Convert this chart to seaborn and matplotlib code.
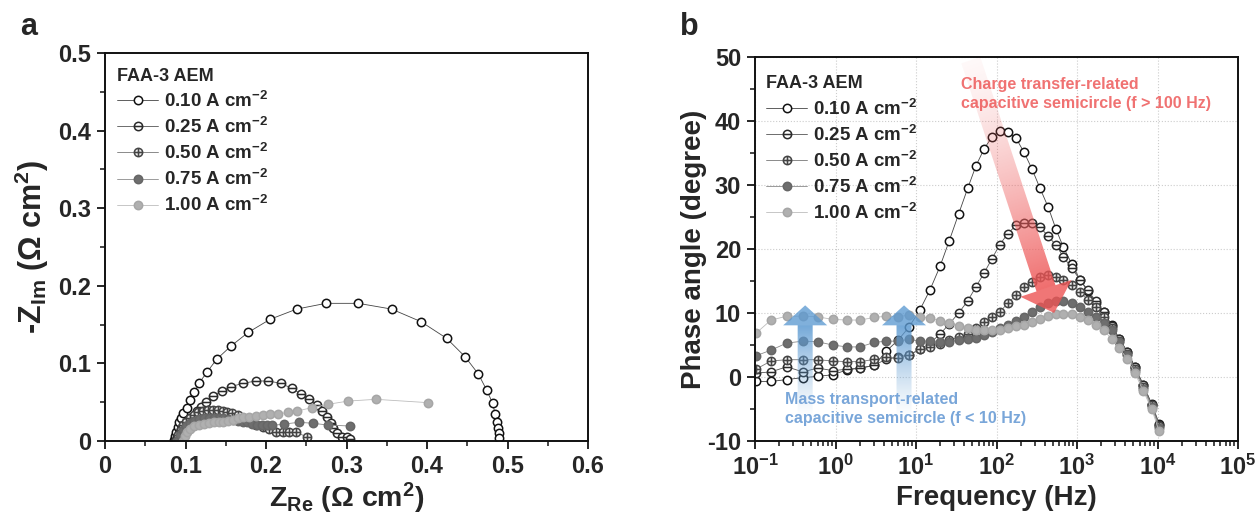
import numpy as np
import matplotlib
matplotlib.use("Agg")
import matplotlib.pyplot as plt
import seaborn as sns
from matplotlib.path import Path
from matplotlib.patches import Polygon
from matplotlib.ticker import MultipleLocator, LogLocator, FuncFormatter, NullFormatter, LogFormatterSciNotation

# ---------------- data ----------------
labels = ["0.10 A cm$^{-2}$", "0.25 A cm$^{-2}$", "0.50 A cm$^{-2}$", "0.75 A cm$^{-2}$", "1.00 A cm$^{-2}$"]
legend_title = "FAA-3 AEM"

# Nyquist (panel a)
zre_010 = [0.0857, 0.0870, 0.0885, 0.0905, 0.0925, 0.0945, 0.0973, 0.1015, 0.1056, 0.1110, 0.1172, 0.1271, 0.1387,
           0.1565, 0.1780, 0.2050, 0.2381, 0.2745, 0.3147, 0.3560, 0.3925, 0.4244, 0.4472, 0.4638, 0.4741, 0.4816,
           0.4845, 0.4865, 0.4886, 0.4894, 0.4900]
zim_010 = [0.001, 0.006, 0.012, 0.018, 0.024, 0.030, 0.0357, 0.0429, 0.0528, 0.0627, 0.0751, 0.0893, 0.1053,
           0.1224, 0.140, 0.1568, 0.170, 0.1774, 0.1774, 0.170, 0.1538, 0.1323, 0.1087, 0.0863, 0.0657, 0.0485,
           0.0348, 0.0249, 0.0163, 0.0099, 0.0035]
zre_025 = [0.0870, 0.0890, 0.0915, 0.0945, 0.0975, 0.1010, 0.1045, 0.1077, 0.1139, 0.1189, 0.1255, 0.1346, 0.1450,
           0.1565, 0.1710, 0.1872, 0.2029, 0.2186, 0.2319, 0.2435, 0.2538, 0.2630, 0.2692, 0.2754, 0.2803, 0.2836,
           0.2886, 0.2940, 0.3002, 0.3043]
zim_025 = [0.000, 0.005, 0.010, 0.015, 0.020, 0.024, 0.028, 0.0313, 0.0387, 0.0442, 0.0507, 0.058, 0.0644,
           0.070, 0.0743, 0.0773, 0.0773, 0.0743, 0.0679, 0.0606, 0.0537, 0.0464, 0.039, 0.0313, 0.0236, 0.0163,
           0.0099, 0.0055, 0.0047, 0.003]
zre_050 = [0.0880, 0.0910, 0.0940, 0.0975, 0.1010, 0.1050, 0.1100, 0.1160, 0.1220, 0.1280, 0.1340, 0.1400, 0.1460,
           0.1520, 0.1580, 0.1650, 0.1720, 0.1800, 0.1880, 0.1960, 0.2040, 0.2130, 0.2210, 0.2290, 0.2370, 0.2505]
zim_050 = [0.000, 0.008, 0.014, 0.020, 0.025, 0.030, 0.034, 0.037, 0.039, 0.040, 0.040, 0.040, 0.039,
           0.038, 0.036, 0.033, 0.029, 0.025, 0.021, 0.018, 0.015, 0.012, 0.012, 0.012, 0.012, 0.005]
zre_075 = [0.0900, 0.0930, 0.0970, 0.1010, 0.1060, 0.1110, 0.1170, 0.1230, 0.1290, 0.1350, 0.1410, 0.1470, 0.1530,
           0.1590, 0.1650, 0.1710, 0.1770, 0.1830, 0.1890, 0.1950, 0.2010, 0.2080, 0.2227, 0.2410, 0.2588, 0.2766,
           0.3043]
zim_075 = [0.000, 0.008, 0.014, 0.019, 0.023, 0.026, 0.028, 0.029, 0.030, 0.030, 0.030, 0.029, 0.028,
           0.027, 0.026, 0.025, 0.024, 0.022, 0.021, 0.020, 0.020, 0.020, 0.0219, 0.0241, 0.0228, 0.0206,
           0.0193]
zre_100 = [0.0970, 0.0990, 0.1020, 0.1060, 0.1110, 0.1170, 0.1230, 0.1290, 0.1350, 0.1410, 0.1470, 0.1530, 0.1590,
           0.1650, 0.1710, 0.1789, 0.1872, 0.1959, 0.2050, 0.2153, 0.2270, 0.2389, 0.2567, 0.2766, 0.3023, 0.3366,
           0.4016]
zim_100 = [0.000, 0.006, 0.011, 0.015, 0.019, 0.021, 0.022, 0.023, 0.024, 0.024, 0.025, 0.026, 0.027,
           0.029, 0.0305, 0.0313, 0.0326, 0.0335, 0.0348, 0.0348, 0.037, 0.0387, 0.0429, 0.0472, 0.0515, 0.0537,
           0.0494]

# Bode phase (panel b)
freq_hz = [0.102, 0.158, 0.248, 0.392, 0.601, 0.923, 1.38, 2.01, 3.03, 4.24, 6.03, 8.18, 11.2, 14.9, 19.9, 25.9,
           33.9, 43.9, 55.6, 70.5, 87.9, 110, 138, 175, 220, 276, 347, 440, 548, 676, 859, 1090, 1360, 1720,
           2160, 2700, 3350, 4220, 5250, 6670, 8470, 10500]
phase_010 = [-0.7, -0.7, -0.4, -0.1, 0.1, 0.35, 1.1, 1.4, 1.8, 4.0, 5.8, 7.8, 10.5, 13.6, 17.3, 21.3, 25.5, 29.5,
             33.0, 35.7, 37.5, 38.5, 38.3, 37.3, 35.1, 32.5, 29.5, 26.5, 23.1, 20.3, 17.7, 15.2, 13.4, 11.6, 10.1,
             8.1, 6.0, 3.95, 1.6, -1.25, -4.2, -7.3]
phase_025 = [0.6, 0.8, 1.6, 0.8, 1.4, 1.0, 1.2, 1.4, 1.8, 2.8, 3.1, 3.5, 4.3, 5.3, 6.7, 8.3, 10.0, 11.9, 14.1,
             16.3, 18.5, 20.7, 22.4, 23.7, 24.1, 24.0, 23.4, 22.0, 20.6, 18.8, 17.0, 15.2, 13.6, 11.8, 10.2, 8.0,
             6.0, 3.9, 1.5, -1.3, -4.3, -7.5]
phase_050 = [1.2, 2.5, 2.7, 2.7, 2.7, 2.5, 2.4, 2.4, 2.75, 3.1, 2.9, 3.4, 4.3, 4.7, 5.2, 5.8, 6.2, 6.7, 7.6, 8.6,
             9.4, 10.2, 11.5, 12.8, 14.0, 14.8, 15.6, 15.9, 15.7, 15.2, 14.4, 13.3, 12.1, 11.0, 9.3, 7.6, 5.6, 3.6,
             1.3, -1.5, -4.4, -7.6]
phase_075 = [3.3, 4.2, 5.3, 5.6, 5.5, 5.0, 4.7, 4.7, 5.4, 5.6, 5.6, 5.9, 5.6, 5.6, 5.4, 5.5, 5.8, 5.9, 6.1, 6.6,
             7.1, 7.6, 8.1, 8.8, 9.4, 10.2, 11.0, 11.5, 11.9, 11.8, 11.6, 11.0, 10.2, 9.3, 8.4, 7.3, 5.5, 3.4, 1.0,
             -1.8, -4.7, -8.0]
phase_100 = [6.8, 8.9, 9.5, 9.5, 9.4, 9.0, 8.9, 8.9, 9.3, 9.5, 9.4, 9.7, 9.4, 9.2, 8.8, 8.4, 7.9, 7.6, 7.3, 7.3,
             7.3, 7.3, 7.6, 7.9, 8.1, 8.6, 9.1, 9.5, 9.8, 9.8, 9.8, 9.4, 8.9, 8.1, 7.3, 5.9, 4.5, 2.8, 0.6, -2.2,
             -5.0, -8.5]

nyq_x = [zre_010, zre_025, zre_050, zre_075, zre_100]
nyq_y = [zim_010, zim_025, zim_050, zim_075, zim_100]
phases = [phase_010, phase_025, phase_050, phase_075, phase_100]

# annotations (data coordinates of panel b)
charge_text = "Charge transfer-related\ncapacitive semicircle (f > 100 Hz)"
mass_text = "Mass transport-related\ncapacitive semicircle (f < 10 Hz)"
blue_arrow_freqs = [0.42, 7.1]
blue_arrow_deg = (-6.5, 11.2)
red_arrow_tail = (48.0, 49.5)
red_arrow_tip = (520.0, 10.0)

# ---------------- style ----------------
sns.set_style("ticks")
plt.rcParams.update({
    "font.family": ["Liberation Sans", "DejaVu Sans"],
    "font.weight": "bold",
    "axes.labelweight": "bold",
    "mathtext.fontset": "custom",
    "mathtext.rm": "Liberation Sans:bold",
    "mathtext.it": "Liberation Sans:bold",
    "mathtext.bf": "Liberation Sans:bold",
    "mathtext.sf": "Liberation Sans:bold",
    "mathtext.default": "rm",
    "axes.unicode_minus": False,
    "axes.linewidth": 1.4,
    "axes.edgecolor": "#111111",
})

circ = Path.unit_circle()
minus_marker = Path.make_compound_path(circ, Path([[-1, 0], [1, 0]], [Path.MOVETO, Path.LINETO]))
plus_marker = Path.make_compound_path(circ, Path([[-1, 0], [1, 0]], [Path.MOVETO, Path.LINETO]),
                                      Path([[0, -1], [0, 1]], [Path.MOVETO, Path.LINETO]))
styles = [
    dict(marker="o", markerfacecolor="white", markeredgecolor="#111111", color="#444444"),
    dict(marker=minus_marker, markerfacecolor="white", markeredgecolor="#2a2a2a", color="#555555"),
    dict(marker=plus_marker, markerfacecolor="#eeeeee", markeredgecolor="#444444", color="#777777"),
    dict(marker="o", markerfacecolor="#6e6e6e", markeredgecolor="#666666", color="#8a8a8a"),
    dict(marker="o", markerfacecolor="#b0b0b0", markeredgecolor="#a6a6a6", color="#bdbdbd"),
]

W, H = 1260, 519
fig = plt.figure(figsize=(W / 100, H / 100), dpi=100)
ax1 = fig.add_axes([105 / W, 1 - 441 / H, 483 / W, 388 / H])
ax2 = fig.add_axes([755 / W, 1 - 441 / H, 483 / W, 384 / H])

# ---------------- panel a ----------------
for xs, ys, lab, st in zip(nyq_x, nyq_y, labels, styles):
    sns.lineplot(x=xs, y=ys, ax=ax1, sort=False, estimator=None, label=lab, linewidth=0.6,
                 markersize=6, markeredgewidth=1.1, **st)
ax1.set_xlim(0, 0.6)
ax1.set_ylim(0, 0.5)
ax1.xaxis.set_major_locator(MultipleLocator(0.1))
ax1.xaxis.set_minor_locator(MultipleLocator(0.05))
ax1.yaxis.set_major_locator(MultipleLocator(0.1))
ax1.yaxis.set_minor_locator(MultipleLocator(0.05))
fmt = FuncFormatter(lambda v, p: "0" if abs(v) < 1e-9 else f"{v:.1f}")
ax1.xaxis.set_major_formatter(fmt)
ax1.yaxis.set_major_formatter(fmt)
ax1.set_xlabel("Z$_{\\mathrm{Re}}$ (Ω cm$^{2}$)", fontsize=20.5)
ax1.set_ylabel("-Z$_{\\mathrm{Im}}$ (Ω cm$^{2}$)", fontsize=22)
ax1.xaxis.set_label_coords(0.5, -0.103)
ax1.yaxis.set_label_coords(-0.112, 0.5)

# ---------------- panel b ----------------
ax2.set_xscale("log")
for ys, lab, st in zip(phases, labels, styles):
    sns.lineplot(x=freq_hz, y=ys, ax=ax2, sort=False, estimator=None, label=lab, linewidth=0.6,
                 markersize=6, markeredgewidth=1.1, **st)
ax2.set_xlim(0.1, 1e5)
ax2.set_ylim(-10, 50)
ax2.xaxis.set_major_locator(LogLocator(base=10, numticks=10))
ax2.xaxis.set_minor_locator(LogLocator(base=10, subs=np.arange(2, 10), numticks=20))
ax2.xaxis.set_major_formatter(LogFormatterSciNotation())
ax2.xaxis.set_minor_formatter(NullFormatter())
ax2.yaxis.set_major_locator(MultipleLocator(10))
ax2.yaxis.set_minor_locator(MultipleLocator(5))
ax2.yaxis.set_major_formatter(FuncFormatter(lambda v, p: f"{v:.0f}"))
ax2.grid(True, which="major", linestyle=":", color="#cccccc", linewidth=0.8)
ax2.set_axisbelow(True)
ax2.set_xlabel("Frequency (Hz)", fontsize=20)
ax2.set_ylabel("Phase angle (degree)", fontsize=20)
ax2.xaxis.set_label_coords(0.5, -0.115)
ax2.yaxis.set_label_coords(-0.1, 0.5)

for ax in (ax1, ax2):
    for s in ax.spines.values():
        s.set_visible(True)
        s.set_linewidth(1.4)
    ax.tick_params(which="major", direction="out", length=6, width=1.4, labelsize=17, pad=4,
                   top=False, right=False)
    ax.tick_params(which="minor", direction="out", length=3.5, width=1.2, top=False, right=False)
    for t in ax.get_xticklabels() + ax.get_yticklabels():
        t.set_fontweight("bold")
    leg = ax.legend(title=legend_title, loc="upper left", frameon=False, fontsize=13.5,
                    title_fontproperties={"weight": "bold", "size": 13}, alignment="left",
                    handlelength=2.2, handletextpad=0.3, labelspacing=0.32, borderpad=0,
                    borderaxespad=0,
                    bbox_to_anchor=(0.025, 0.962) if ax is ax1 else (0.023, 0.952))
    for t in leg.get_texts():
        t.set_fontweight("bold")

# annotation texts
ax2.text((961 - 755) / 483, 0.948, charge_text, transform=ax2.transAxes, ha="left", va="top",
         fontsize=11.5, color="#f07272", fontweight="bold", linespacing=1.35, zorder=20)

# ---------------- gradient arrows (overlay in pixel space) ----------------
ov = fig.add_axes([0, 0, 1, 1], zorder=10)
ov.set_xlim(0, W)
ov.set_ylim(0, H)
ov.set_autoscale_on(False)
ov.axis("off")
ov.patch.set_alpha(0)


def grad_arrow(p0, p1, shaft_w, head_w, head_len, rgb, a_start, a_end, a_head, gamma=1.0):
    p0 = np.asarray(p0, float)
    p1 = np.asarray(p1, float)
    d = p1 - p0
    L = np.hypot(*d)
    u = d / L
    n = np.array([-u[1], u[0]])
    b = p0 + u * (L - head_len)
    poly = np.array([p0 + n * shaft_w / 2, b + n * shaft_w / 2, b + n * head_w / 2, p1,
                     b - n * head_w / 2, b - n * shaft_w / 2, p0 - n * shaft_w / 2])
    x0, y0 = poly.min(0) - 2
    x1, y1 = poly.max(0) + 2
    nx, ny = int(np.ceil(x1 - x0)) * 2, int(np.ceil(y1 - y0)) * 2
    X, Y = np.meshgrid(np.linspace(x0, x1, nx), np.linspace(y0, y1, ny))
    s = (X - p0[0]) * u[0] + (Y - p0[1]) * u[1]
    t = np.clip(s / (L - head_len), 0, 1)
    a = a_start + (a_end - a_start) * t ** gamma
    a = np.where(s > (L - head_len), a_head, a)
    img = np.zeros((ny, nx, 4))
    img[..., :3] = rgb
    img[..., 3] = a
    im = ov.imshow(img, extent=(x0, x1, y0, y1), origin="lower", aspect="auto", interpolation="bilinear")
    patch = Polygon(poly, closed=True, facecolor="none", edgecolor="none", transform=ov.transData)
    ov.add_patch(patch)
    im.set_clip_path(patch)


T = ax2.transData
for f in blue_arrow_freqs:
    p0 = T.transform((f, blue_arrow_deg[0]))
    p1 = T.transform((f, blue_arrow_deg[1]))
    grad_arrow(p0, p1, 15, 44, 20, (0.36, 0.60, 0.82), 0.0, 0.85, 0.78, gamma=1.3)
grad_arrow(T.transform(red_arrow_tail), T.transform(red_arrow_tip), 20, 54, 26,
           (0.93, 0.33, 0.33), 0.04, 0.85, 0.8, gamma=1.4)

# text above arrows
p_mass = ax2.transAxes.transform(((785 - 755) / 483, 0.128))
ov.text(p_mass[0], p_mass[1], mass_text, ha="left", va="top", fontsize=11.5, color="#79a6d9",
        fontweight="bold", linespacing=1.35)

fig.text(20 / W, 1 - 35 / H, "a", fontsize=22, fontweight="bold", ha="left", va="baseline")
fig.text(680 / W, 1 - 35 / H, "b", fontsize=22, fontweight="bold", ha="left", va="baseline")

fig.savefig("out.png", dpi=100)
